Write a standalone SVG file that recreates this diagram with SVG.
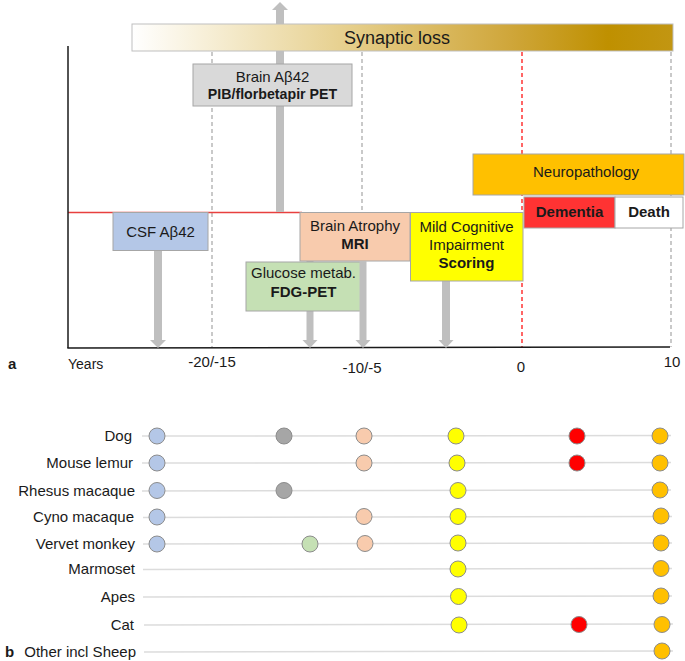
<svg xmlns="http://www.w3.org/2000/svg" width="685" height="661" viewBox="0 0 685 661">
<style>
text{font-family:"Liberation Sans",Arial,sans-serif;fill:#1a1a1a}
.t15{font-size:15px}
.b{font-weight:bold}
.mid{text-anchor:middle}
.end{text-anchor:end}
.box{stroke:#A6A6A6;stroke-width:1}
.dash{stroke:#A6A6A6;stroke-width:1.2;stroke-dasharray:4 3;fill:none}
.rdash{stroke:#FF0000;stroke-width:1.2;stroke-dasharray:4 3;fill:none}
.arrow{fill:#BFBFBF}
.row{stroke:#DCDCDC;stroke-width:1.5}
.dot{stroke:#8C8C8C;stroke-width:1}
.blue{fill:#B4C7E7}.gray{fill:#A6A6A6}.green{fill:#C5E0B4}.peach{fill:#F8CBAD}
.yellow{fill:#FFFF00}.red{fill:#FF0000}.orange{fill:#FFC000}
</style>
<defs>
<linearGradient id="syn" x1="0" y1="0" x2="1" y2="0">
<stop offset="0" stop-color="#FFFFFF"/>
<stop offset="0.12" stop-color="#F8F1DC"/>
<stop offset="0.4" stop-color="#E6CF8C"/>
<stop offset="0.7" stop-color="#CFA63A"/>
<stop offset="0.88" stop-color="#BF9000"/>
<stop offset="1" stop-color="#C29612"/>
</linearGradient>
</defs>
<rect width="685" height="661" fill="#FFFFFF"/>

<g id="grid">
<line class="dash" x1="212" y1="52" x2="212" y2="347"/>
<line class="dash" x1="362" y1="52" x2="362" y2="347"/>
<line class="dash" x1="671" y1="52" x2="671" y2="347"/>
<line class="rdash" x1="522" y1="52" x2="522" y2="347"/>
<line x1="68" y1="212.5" x2="302" y2="212.5" stroke="#E8403F" stroke-width="1.5"/>
</g>

<g id="axes">
<line x1="68" y1="46" x2="68" y2="348" stroke="#1a1a1a" stroke-width="1.5"/>
<line x1="67.3" y1="348" x2="670" y2="347" stroke="#1a1a1a" stroke-width="1.5"/>
<text x="8" y="369" font-size="15" class="b">a</text>
<text x="68" y="369" font-size="14">Years</text>
<text x="212" y="367" class="t15 mid">-20/-15</text>
<text x="362" y="373" class="t15 mid">-10/-5</text>
<text x="521" y="372" class="t15 mid">0</text>
<text x="672" y="367" class="t15 mid">10</text>
</g>

<g id="connectors">
<polygon class="arrow" points="276,212 284,212 284,10 288,10 280,2 272,10 276,10"/>
<polygon class="arrow" points="154,250 162,250 162,340 166,340 158,348 150,340 154,340"/>
<polygon class="arrow" points="306.5,261 313.5,261 313.5,340 317.5,340 310,348 302.5,340 306.5,340"/>
<polygon class="arrow" points="442,281 450,281 450,340 453.5,340 446,348 438.5,340 442,340"/>
</g>

<g id="synaptic-loss">
<rect x="132" y="24" width="541" height="27" fill="url(#syn)" stroke="#BFBFBF" stroke-width="1"/>
<text x="397" y="44" font-size="18" class="mid">Synaptic loss</text>
</g>

<g id="brain-abeta">
<rect class="box" x="193" y="64" width="159" height="42" fill="#D9D9D9"/>
<text x="272.5" y="82" class="t15 mid">Brain Aβ42</text>
<text x="272.5" y="99" font-size="14.2" class="b mid">PIB/florbetapir PET</text>
</g>

<g id="csf-abeta">
<rect class="box" x="113" y="212.5" width="95" height="38" fill="#B4C7E7"/>
<text x="160.5" y="236.5" class="t15 mid">CSF Aβ42</text>
</g>

<g id="glucose">
<rect class="box" x="246" y="262" width="115" height="49" fill="#C5E0B4"/>
<text x="303.5" y="278" class="t15 mid">Glucose metab.</text>
<text x="303.5" y="296.5" class="t15 b mid">FDG-PET</text>
</g>

<g id="brain-atrophy">
<rect class="box" x="300" y="212.5" width="110" height="48.5" fill="#F8CBAD"/>
<text x="355" y="231" class="t15 mid">Brain Atrophy</text>
<text x="355" y="249" class="t15 b mid">MRI</text>
</g>

<g id="mri-arrow">
<polygon class="arrow" points="359.5,261 366.5,261 366.5,340 370.5,340 363,348 355.5,340 359.5,340"/>
</g>

<g id="mci">
<rect class="box" x="410.5" y="212.5" width="112.5" height="68.5" fill="#FFFF00"/>
<text x="466.5" y="231.5" class="t15 mid">Mild Cognitive</text>
<text x="466.5" y="249.5" class="t15 mid">Impairment</text>
<text x="466.5" y="268" class="t15 b mid">Scoring</text>
</g>

<g id="neuropathology">
<rect class="box" x="473" y="154" width="211" height="41" fill="#FFC000"/>
<text x="586" y="177" class="t15 mid">Neuropathology</text>
</g>

<g id="dementia">
<rect class="box" x="524" y="197" width="91" height="31" fill="#FF3333"/>
<text x="569.5" y="216.5" class="t15 b mid">Dementia</text>
</g>

<g id="death">
<rect class="box" x="615" y="197" width="68" height="31" fill="#FFFFFF"/>
<text x="649" y="216.5" class="t15 b mid">Death</text>
</g>

<g id="species-rows">
<line class="row" x1="142" y1="436" x2="671" y2="435.5"/>
<line class="row" x1="142" y1="463" x2="671" y2="462.5"/>
<line class="row" x1="142" y1="491" x2="671" y2="490"/>
<line class="row" x1="143" y1="517.5" x2="672" y2="516.5"/>
<line class="row" x1="143" y1="544" x2="672" y2="543"/>
<line class="row" x1="143" y1="569.5" x2="672" y2="568.5"/>
<line class="row" x1="143" y1="597" x2="672" y2="596"/>
<line class="row" x1="144" y1="625" x2="673" y2="624"/>
<line class="row" x1="144" y1="652" x2="673" y2="651"/>
</g>

<g id="dog">
<text x="132" y="441" class="t15 end">Dog</text>
<circle class="dot blue" cx="157" cy="436" r="8"/>
<circle class="dot gray" cx="284" cy="436" r="8"/>
<circle class="dot peach" cx="364" cy="436" r="8"/>
<circle class="dot yellow" cx="456" cy="436" r="8"/>
<circle class="dot red" cx="577" cy="436" r="8"/>
<circle class="dot orange" cx="660" cy="436" r="8"/>
</g>
<g id="mouse-lemur">
<text x="133" y="468" class="t15 end">Mouse lemur</text>
<circle class="dot blue" cx="157" cy="463" r="8"/>
<circle class="dot peach" cx="364" cy="463" r="8"/>
<circle class="dot yellow" cx="457" cy="463" r="8"/>
<circle class="dot red" cx="577" cy="463" r="8"/>
<circle class="dot orange" cx="660" cy="463" r="8"/>
</g>
<g id="rhesus-macaque">
<text x="135" y="495.5" class="t15 end">Rhesus macaque</text>
<circle class="dot blue" cx="157" cy="490.5" r="8"/>
<circle class="dot gray" cx="284" cy="490.5" r="8"/>
<circle class="dot yellow" cx="458" cy="490.5" r="8"/>
<circle class="dot orange" cx="660" cy="490" r="8"/>
</g>
<g id="cyno-macaque">
<text x="134" y="522" class="t15 end">Cyno macaque</text>
<circle class="dot blue" cx="157" cy="517" r="8"/>
<circle class="dot peach" cx="364" cy="516.5" r="8"/>
<circle class="dot yellow" cx="458" cy="516.5" r="8"/>
<circle class="dot orange" cx="661" cy="516" r="8"/>
</g>
<g id="vervet-monkey">
<text x="135" y="549" class="t15 end">Vervet monkey</text>
<circle class="dot blue" cx="157" cy="544" r="8"/>
<circle class="dot green" cx="310" cy="544" r="8"/>
<circle class="dot peach" cx="365" cy="543.5" r="8"/>
<circle class="dot yellow" cx="458" cy="543" r="8"/>
<circle class="dot orange" cx="661" cy="543" r="8"/>
</g>
<g id="marmoset">
<text x="135" y="574" class="t15 end">Marmoset</text>
<circle class="dot yellow" cx="458" cy="569" r="8"/>
<circle class="dot orange" cx="661" cy="568.5" r="8"/>
</g>
<g id="apes">
<text x="135" y="602" class="t15 end">Apes</text>
<circle class="dot yellow" cx="458.5" cy="596.5" r="8"/>
<circle class="dot orange" cx="661" cy="596" r="8"/>
</g>
<g id="cat">
<text x="134" y="630" class="t15 end">Cat</text>
<circle class="dot yellow" cx="459" cy="625" r="8"/>
<circle class="dot red" cx="579" cy="624.5" r="8"/>
<circle class="dot orange" cx="662" cy="624.5" r="8"/>
</g>
<g id="other-incl-sheep">
<text x="5" y="657" font-size="15" class="b">b</text>
<text x="136" y="657" class="t15 end">Other incl Sheep</text>
<circle class="dot orange" cx="662" cy="651" r="8"/>
</g>
</svg>
